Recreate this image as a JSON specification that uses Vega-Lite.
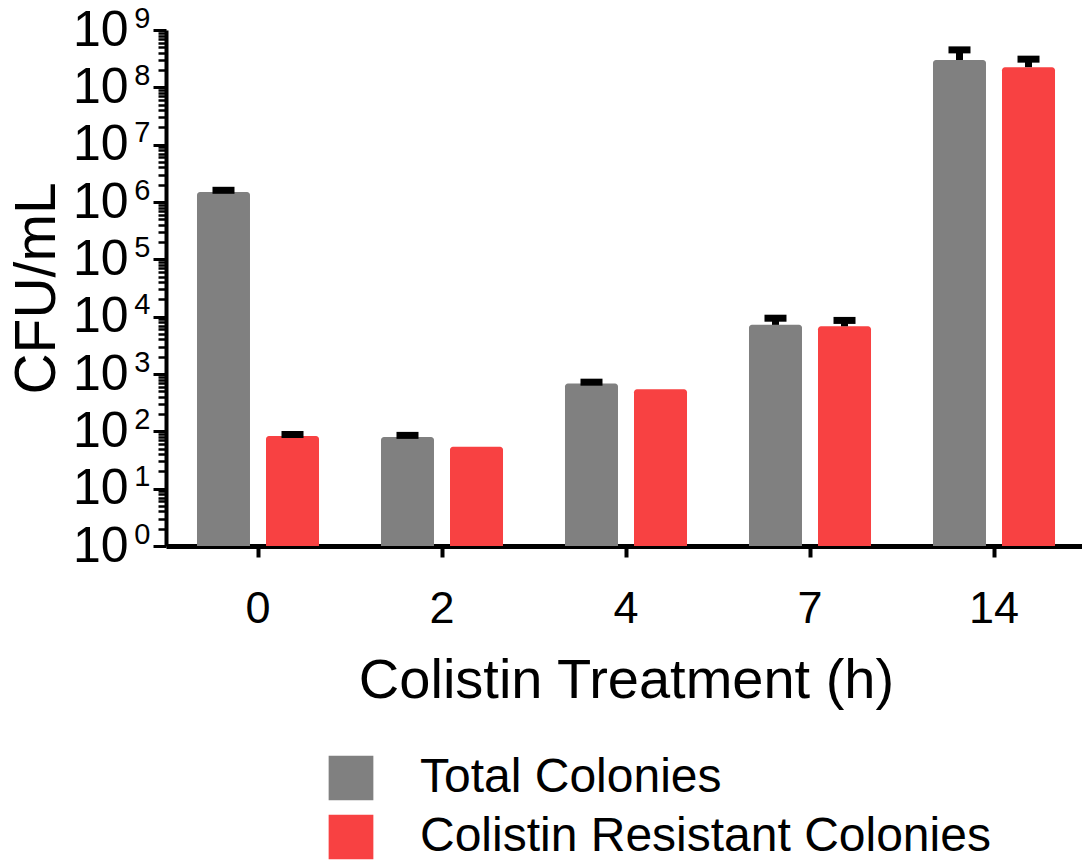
{
  "$schema": "https://vega.github.io/schema/vega-lite/v6.json",
  "autosize": {"type": "none"},
  "padding": {"left": 166, "top": 30, "right": 0, "bottom": 319},
  "width": 916,
  "height": 516,
  "background": "white",
  "config": {
    "view": {"stroke": null},
    "font": "Liberation Sans",
    "axis": {"labelFont": "Liberation Sans", "titleFont": "Liberation Sans", "labelColor": "black", "titleColor": "black", "grid": false},
    "legend": {"labelFont": "Liberation Sans"}
  },
  "data": {
    "values": [
      {"time": "0", "series": "Total Colonies", "value": 1500000, "upper": 1600000},
      {"time": "0", "series": "Colistin Resistant Colonies", "value": 83, "upper": 88},
      {"time": "2", "series": "Total Colonies", "value": 80, "upper": 85},
      {"time": "2", "series": "Colistin Resistant Colonies", "value": 54, "upper": null},
      {"time": "4", "series": "Total Colonies", "value": 680, "upper": 720},
      {"time": "4", "series": "Colistin Resistant Colonies", "value": 540, "upper": null},
      {"time": "7", "series": "Total Colonies", "value": 7200, "upper": 9400},
      {"time": "7", "series": "Colistin Resistant Colonies", "value": 6800, "upper": 8600},
      {"time": "14", "series": "Total Colonies", "value": 300000000, "upper": 450000000},
      {"time": "14", "series": "Colistin Resistant Colonies", "value": 225000000, "upper": 310000000}
    ]
  },
  "resolve": {"axis": {"y": "independent"}},
  "layer": [
    {
      "mark": {"type": "bar", "cornerRadiusTopLeft": 3, "cornerRadiusTopRight": 3},
      "encoding": {
        "x": {
          "field": "time", "type": "nominal", "sort": ["0", "2", "4", "7", "14"],
          "scale": {"range": [0, 920], "paddingInner": 0, "paddingOuter": 0},
          "axis": {
            "title": "Colistin Treatment (h)", "titleFontSize": 56, "titleFontWeight": "normal", "titlePadding": 22,
            "labelFontSize": 45, "labelPadding": 29, "labelAngle": 0,
            "domainColor": "black", "domainWidth": 5, "tickColor": "black", "tickWidth": 4, "tickSize": 11
          }
        },
        "xOffset": {
          "field": "series", "type": "nominal", "sort": ["Total Colonies", "Colistin Resistant Colonies"],
          "scale": {"paddingInner": 0.232, "paddingOuter": 0.449}
        },
        "y": {
          "field": "value", "type": "quantitative",
          "scale": {"type": "log", "domain": [1, 1000000000], "nice": false},
          "axis": {
            "orient": "left",
            "values": [1, 10, 100, 1000, 10000, 100000, 1000000, 10000000, 100000000, 1000000000],
            "labelExpr": "'10'", "labelFontSize": 50, "labelPadding": 25, "labelBaseline": "middle",
            "labelFlush": false, "labelOverlap": false,
            "domainColor": "black", "domainWidth": 4, "tickColor": "black", "tickWidth": 3, "tickSize": 13,
            "title": "CFU/mL", "titleFontSize": 57, "titleFontWeight": "normal", "titlePadding": 6
          }
        },
        "y2": {"datum": 1},
        "color": {
          "field": "series", "type": "nominal",
          "sort": ["Total Colonies", "Colistin Resistant Colonies"],
          "scale": {"domain": ["Total Colonies", "Colistin Resistant Colonies"], "range": ["#808080", "#f84142"]},
          "legend": {
            "title": null, "orient": "none", "legendX": 161, "legendY": 724, "direction": "vertical",
            "symbolType": "square", "symbolSize": 2000, "symbolStrokeWidth": 0, "symbolOpacity": 1,
            "labelFontSize": 48, "labelOffset": 45, "rowPadding": 11, "labelColor": "black", "labelLimit": 1000
          }
        }
      }
    },
    {
      "transform": [{"filter": "datum.upper != null"}],
      "mark": {"type": "rule", "strokeWidth": 7, "color": "black"},
      "encoding": {
        "x": {"field": "time", "type": "nominal", "sort": ["0", "2", "4", "7", "14"]},
        "xOffset": {"field": "series", "type": "nominal", "sort": ["Total Colonies", "Colistin Resistant Colonies"]},
        "y": {
          "field": "value", "type": "quantitative",
          "axis": {
            "orient": "left", "title": null, "labels": false, "domain": false,
            "values": [2,3,4,5,6,7,8,9,20,30,40,50,60,70,80,90,200,300,400,500,600,700,800,900,2000,3000,4000,5000,6000,7000,8000,9000,20000,30000,40000,50000,60000,70000,80000,90000,200000,300000,400000,500000,600000,700000,800000,900000,2000000,3000000,4000000,5000000,6000000,7000000,8000000,9000000,20000000,30000000,40000000,50000000,60000000,70000000,80000000,90000000,200000000,300000000,400000000,500000000,600000000,700000000,800000000,900000000],
            "tickColor": "black", "tickWidth": 2.5, "tickSize": 8
          }
        },
        "y2": {"field": "upper"}
      }
    },
    {
      "transform": [{"filter": "datum.upper != null"}],
      "mark": {"type": "tick", "thickness": 7, "size": 22, "color": "black", "opacity": 1},
      "encoding": {
        "x": {"field": "time", "type": "nominal", "sort": ["0", "2", "4", "7", "14"]},
        "xOffset": {"field": "series", "type": "nominal", "sort": ["Total Colonies", "Colistin Resistant Colonies"]},
        "y": {
          "field": "upper", "type": "quantitative",
          "axis": {
            "orient": "left", "title": null, "domain": false, "ticks": false,
            "values": [1, 10, 100, 1000, 10000, 100000, 1000000, 10000000, 100000000, 1000000000],
            "labelExpr": "format(round(log(datum.value)/LN10), 'd')",
            "labelFontSize": 29, "labelPadding": 16, "labelOffset": -12, "labelBaseline": "middle",
            "labelFlush": false, "labelOverlap": false
          }
        }
      }
    }
  ]
}
